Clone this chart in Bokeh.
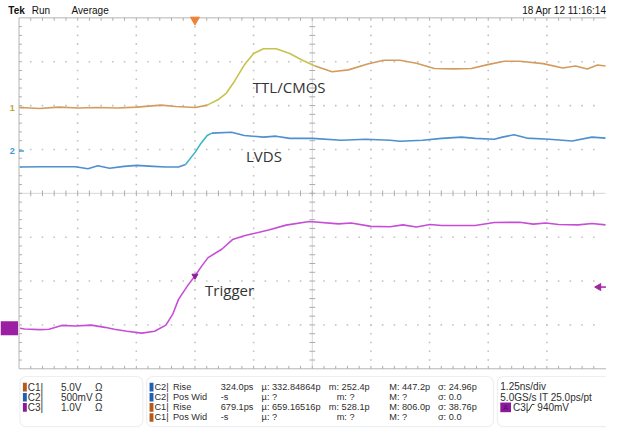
import numpy as np
from bokeh.plotting import figure
from bokeh.models import Range1d, BoxAnnotation
from bokeh.core.properties import value
from bokeh.embed import file_html
from bokeh.resources import INLINE

# ---------------- data ----------------
ch1_time_ns = [-3.73, -3.31, -2.90, -2.48, -2.07, -1.65, -1.24, -0.72, -0.41, 0.01,
               0.26, 0.49, 0.67, 0.84, 1.05, 1.25, 1.46, 1.73, 2.02, 2.29,
               2.56, 2.92, 3.27, 3.68, 4.02, 4.37, 4.72, 5.10, 5.51, 5.89,
               6.24, 6.59, 6.92, 7.42, 7.84, 8.11, 8.36, 8.58, 8.75]
ch1_volts = [0.00, -0.11, 0.05, -0.05, 0.00, -0.05, 0.05, 0.27, 0.11, 0.00,
             0.27, 0.88, 1.65, 2.97, 4.84, 6.15, 6.70, 6.70, 6.15, 5.38,
             4.73, 4.07, 4.29, 4.95, 5.38, 5.38, 5.05, 4.45, 4.40, 4.45,
             4.89, 5.27, 5.27, 5.00, 4.51, 4.73, 4.40, 4.84, 4.73]

ch2_time_ns = [-3.73, -3.25, -2.55, -2.28, -2.07, -1.82, -1.51, -1.24, -0.89, -0.62,
               -0.35, -0.20, 0.01, 0.13, 0.26, 0.36, 0.78, 1.05, 1.46, 1.73,
               2.02, 2.50, 3.12, 3.64, 4.16, 4.37, 4.85, 5.26, 5.68, 5.97,
               6.38, 6.55, 6.80, 7.07, 7.55, 8.04, 8.46, 8.75]
ch2_volts = [-0.184, -0.181, -0.181, -0.203, -0.170, -0.198, -0.176, -0.165, -0.176, -0.184,
             -0.184, -0.154, -0.011, 0.088, 0.176, 0.203, 0.212, 0.176, 0.157, 0.168,
             0.143, 0.143, 0.121, 0.132, 0.121, 0.110, 0.121, 0.143, 0.157, 0.143,
             0.132, 0.157, 0.184, 0.146, 0.132, 0.113, 0.157, 0.146]

ch3_time_ns = [-3.73, -3.63, -3.31, -3.11, -2.84, -2.55, -2.21, -1.92, -1.72, -1.45,
               -1.13, -0.86, -0.62, -0.47, -0.35, -0.16, 0.01, 0.15, 0.28, 0.57,
               0.80, 1.05, 1.25, 1.57, 1.94, 2.44, 3.06, 3.33, 3.75, 4.16,
               4.43, 4.72, 5.01, 5.26, 5.97, 6.38, 6.92, 7.21, 7.48, 7.75,
               8.17, 8.46, 8.75]
ch3_volts = [0.000, -0.015, -0.029, -0.022, 0.066, 0.051, 0.073, 0.022, -0.022, -0.066,
             -0.110, -0.066, 0.073, 0.330, 0.659, 0.967, 1.209, 1.429, 1.611, 1.802,
             2.022, 2.110, 2.160, 2.242, 2.352, 2.433, 2.380, 2.402, 2.323, 2.314,
             2.358, 2.308, 2.367, 2.345, 2.345, 2.411, 2.418, 2.374, 2.402, 2.367,
             2.358, 2.389, 2.358]

trace_labels = ["TTL/CMOS", "LVDS", "Trigger"]

channel_names = ["C1", "C2", "C3"]
channel_scale_text = ["5.0V", "500mV", "1.0V"]
channel_v_per_div = [5.0, 0.5, 1.0]

meas_source = ["C2", "C2", "C1", "C1"]
meas_type = ["Rise", "Pos Wid", "Rise", "Pos Wid"]
meas_value = ["324.0ps", "-s", "679.1ps", "-s"]
meas_mean = ["332.84864p", "?", "659.16516p", "?"]
meas_min = ["252.4p", "?", "528.1p", "?"]
meas_max = ["447.2p", "?", "806.0p", "?"]
meas_sdev = ["24.96p", "0.0", "38.76p", "0.0"]

horiz_scale_text = "1.25ns/div"
acq_text = "5.0GS/s IT 25.0ps/pt"
trigger_source = "C3"
trigger_level_v = 0.94
trigger_level_text = "940mV"
header_left = ["Tek", "Run", "Average"]
header_date = "18 Apr 12 11:16:14"

# ---------------- layout / scope geometry ----------------
ns_per_div = 1.25
trigger_div = 3.0
ground_div = [1.956, 0.967, -3.077]

W, H = 606, 430
CW, CHh = 622.0, 446.0          # layout canvas units
GX0, GYC = 19.0, 200.0          # graticule left edge / centre row
PXX, PXY = 60.2, 45.5           # canvas units per division


def tx(px):
    return (px - GX0) / PXX * ns_per_div - trigger_div * ns_per_div


def dy(py):
    return (GYC - py) / PXY


ybot, ytop = dy(CHh), dy(0)
p = figure(width=W, height=H, output_backend="svg", toolbar_location=None,
           x_range=Range1d(tx(0), tx(CW)), y_range=Range1d(ybot, ytop),
           x_axis_location=None, y_axis_location=None, min_border=0,
           outline_line_color=None, background_fill_color="white",
           border_fill_color="white")
p.grid.visible = False
p.extra_y_ranges = {
    f"ch{i+1}": Range1d((ybot - ground_div[i]) * channel_v_per_div[i],
                        (ytop - ground_div[i]) * channel_v_per_div[i])
    for i in range(3)
}

# ---------------- graticule ----------------
t0, t1 = -trigger_div * ns_per_div, (10 - trigger_div) * ns_per_div
tc = (t0 + t1) / 2
minor_t = [t0 + 0.25 * i for i in range(1, 50)]
minor_v = [0.2 * j for j in range(-19, 20)]
dot_x, dot_y = [], []
for k in range(1, 10):
    if k == 5:
        continue
    for v in minor_v:
        if abs(v) > 1e-9:
            dot_x.append(t0 + k * ns_per_div)
            dot_y.append(v)
for m in (-3, -2, -1, 1, 2, 3):
    for t in minor_t:
        if abs(t - tc) > 1e-9:
            dot_x.append(t)
            dot_y.append(m)
p.scatter(dot_x, dot_y, marker="square", size=1.6, color="#c2c2c2", line_color=None)

grid_col = "#d6d6d6"
tick_col = "#acacac"
p.segment(x0=[t0, tc], y0=[0, -4], x1=[t1, tc], y1=[0, 4], line_color=grid_col, line_width=1)
tl_y = 3.0 / PXY
tl_x = 3.0 / PXX * ns_per_div
p.segment(x0=minor_t, y0=[-tl_y] * len(minor_t), x1=minor_t, y1=[tl_y] * len(minor_t),
          line_color=tick_col, line_width=1)
p.segment(x0=[tc - tl_x] * len(minor_v), y0=minor_v, x1=[tc + tl_x] * len(minor_v), y1=minor_v,
          line_color=tick_col, line_width=1)
# frame edges (top, left, bottom)
p.segment(x0=[t0, t0, t0], y0=[4, -4, -4], x1=[t1 + 0.1, t0, t1 + 0.1], y1=[4, 4, -4],
          line_color="#b4b4b4", line_width=1)
p.segment(x0=minor_t, y0=[4] * len(minor_t), x1=minor_t, y1=[4 - tl_y] * len(minor_t),
          line_color=tick_col, line_width=1)
p.segment(x0=minor_t, y0=[-4] * len(minor_t), x1=minor_t, y1=[-4 + tl_y] * len(minor_t),
          line_color=tick_col, line_width=1)
p.segment(x0=[t0] * len(minor_v), y0=minor_v, x1=[t0 + tl_x] * len(minor_v), y1=minor_v,
          line_color=tick_col, line_width=1)


# ---------------- traces ----------------
def split3(t, v, a, b):
    t = np.asarray(t)
    v = np.asarray(v)
    ia = int(np.searchsorted(t, a))
    ib = int(np.searchsorted(t, b, side="right")) - 1
    return (t[:ia + 1], v[:ia + 1]), (t[ia:ib + 1], v[ia:ib + 1]), (t[ib:], v[ib:])


lw = 1.6
s1 = split3(ch1_time_ns, ch1_volts, 0.26, 2.56)
for (tt, vv), col in zip(s1, ["#d39c5e", "#c8c24a", "#d39c5e"]):
    p.line(tt, vv, y_range_name="ch1", line_color=col, line_width=lw)
s2 = split3(ch2_time_ns, ch2_volts, -0.20, 0.36)
for (tt, vv), col in zip(s2, ["#4e8fd0", "#38b7c6", "#4e8fd0"]):
    p.line(tt, vv, y_range_name="ch2", line_color=col, line_width=lw)
p.line(ch3_time_ns, ch3_volts, y_range_name="ch3", line_color="#c64ed6", line_width=lw)

# ---------------- markers ----------------
p.scatter([0.0], [dy(20)], marker="inverted_triangle", size=9, color="#ef8233")
trig_v = float(np.interp(0.0, ch3_time_ns, ch3_volts))
p.scatter([0.0], [trig_v], y_range_name="ch3", marker="inverted_triangle", size=6,
          color="#8d1d9c")
p.scatter([tx(614)], [trigger_level_v], y_range_name="ch3", marker="triangle",
          angle=np.pi / 2, size=7, color="#a3279f")
p.segment(x0=[tx(614)], y0=[trigger_level_v], x1=[tx(622)], y1=[trigger_level_v],
          y_range_name="ch3", line_color="#a3279f", line_width=1.5)

# ground markers at the left
p.text(x=[tx(12)], y=[0.0], text=["1"], y_range_name="ch1", text_color="#c2a43e",
       text_font=value("Liberation Sans"), text_font_size="9px", text_align="center",
       text_baseline="middle", text_font_style="bold")
p.segment(x0=[tx(19)], y0=[0.0], x1=[tx(24)], y1=[0.0], y_range_name="ch1",
          line_color="#d39c5e", line_width=1.5)
p.text(x=[tx(12)], y=[0.0], text=["2"], y_range_name="ch2", text_color="#3a9ad6",
       text_font=value("Liberation Sans"), text_font_size="9px", text_align="center",
       text_baseline="middle", text_font_style="bold")
p.segment(x0=[tx(19)], y0=[0.0], x1=[tx(24)], y1=[0.0], y_range_name="ch2",
          line_color="#3a9ad6", line_width=1.5)
p.quad(left=[tx(0)], right=[tx(18)], top=[0.16], bottom=[-0.16], y_range_name="ch3",
       fill_color="#9b1fa3", line_color=None)

# trace labels
lab_font = value("Open Sans")
p.text(x=[tx(259), tx(252), tx(210)], y=[dy(90), dy(161), dy(300)], text=trace_labels,
       text_color="#333333", text_font=lab_font, text_font_size="15px",
       text_align="left", text_baseline="middle")

# ---------------- header ----------------
hf = value("Liberation Sans")
p.text(x=[tx(8)], y=[dy(10)], text=[header_left[0]], text_color="#111111", text_font=hf,
       text_font_size="10px", text_font_style="bold", text_baseline="middle")
p.text(x=[tx(32), tx(73)], y=[dy(10), dy(10)], text=header_left[1:], text_color="#111111",
       text_font=hf, text_font_size="10px", text_baseline="middle")
p.text(x=[tx(622)], y=[dy(10)], text=[header_date], text_color="#111111", text_font=hf,
       text_font_size="10px", text_align="right", text_baseline="middle")

# ---------------- bottom info panel ----------------
for l, r in [(20, 146), (150, 506), (510, 640)]:
    p.add_layout(BoxAnnotation(left=tx(l), right=tx(r), top=dy(390), bottom=dy(442),
                               fill_color="white", fill_alpha=1.0, line_color="#c4cbd5",
                               line_width=1.2, border_radius=6, level="underlay"))

src_col = {"C1": "#b5591a", "C2": "#1f5fb4", "C3": "#8b1a9b"}
pc = "#2e2e2e"


def put(px_list, py_list, texts, align="left", fs="10px"):
    p.text(x=[tx(v) for v in px_list], y=[dy(v) for v in py_list], text=texts,
           text_color=pc, text_font=hf, text_font_size=fs, text_align=align,
           text_baseline="middle")


rows1 = [401, 411.5, 422]
p.quad(left=[tx(23)] * 3, right=[tx(27)] * 3, top=[dy(r - 4.5) for r in rows1],
       bottom=[dy(r + 4.5) for r in rows1], fill_color=[src_col[c] for c in channel_names],
       line_color=None)
put([28] * 3, rows1, [c + "|" for c in channel_names])
put([62] * 3, rows1, channel_scale_text)
put([97] * 3, rows1, ["\u03a9"] * 3)

rows2 = [401, 411.5, 422, 432.5]
f2 = "9.2px"
p.quad(left=[tx(153)] * 4, right=[tx(157)] * 4, top=[dy(r - 4.5) for r in rows2],
       bottom=[dy(r + 4.5) for r in rows2], fill_color=[src_col[c] for c in meas_source],
       line_color=None)
put([158] * 4, rows2, [c + "|" for c in meas_source], fs=f2)
put([177] * 4, rows2, meas_type, fs=f2)
put([226] * 4, rows2, meas_value, fs=f2)
put([268] * 4, rows2, ["\u00b5: " + s for s in meas_mean], fs=f2)
put([345 if s == "?" else 337 for s in meas_min], rows2, ["m: " + s for s in meas_min], fs=f2)
put([399] * 4, rows2, ["M: " + s for s in meas_max], fs=f2)
put([449] * 4, rows2, ["\u03c3: " + s for s in meas_sdev], fs=f2)

put([513, 513], [400.5, 411.5], [horiz_scale_text, acq_text])
p.quad(left=[tx(513)], right=[tx(524)], top=[dy(417)], bottom=[dy(427)],
       fill_color=src_col[trigger_source], line_color=None)
p.text(x=[tx(518.5)], y=[dy(422)], text=["A"], text_color="#5a0a66", text_font=hf,
       text_font_size="7px", text_align="center", text_baseline="middle")
put([526], [422], [trigger_source + "|"])
p.line([tx(540), tx(542.5), tx(545.5), tx(548)], [dy(425), dy(425), dy(419), dy(419)],
       line_color=pc, line_width=1)
put([551], [422], [trigger_level_text])

open("out.html", "w").write(file_html(p, INLINE))
